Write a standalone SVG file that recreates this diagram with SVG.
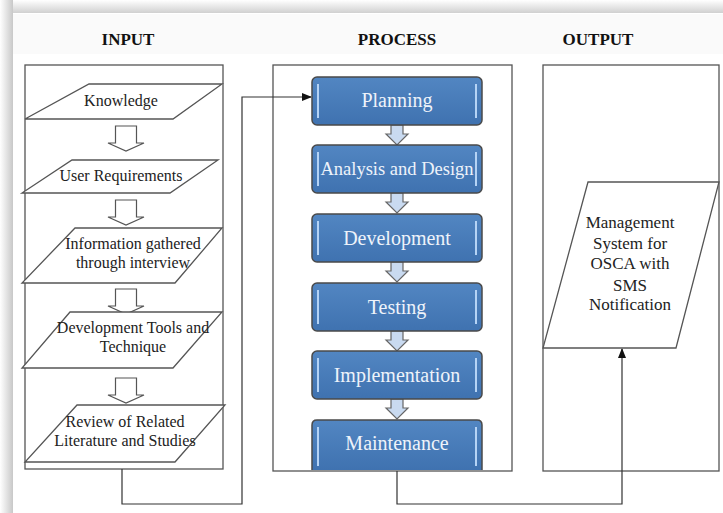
<svg xmlns="http://www.w3.org/2000/svg" width="723" height="513" viewBox="0 0 723 513">
<defs>
<linearGradient id="topShade" x1="0" y1="0" x2="0" y2="1"><stop offset="0" stop-color="#ffffff"/><stop offset="1" stop-color="#d0d0d0"/></linearGradient>
<linearGradient id="leftShade" x1="0" y1="0" x2="1" y2="0"><stop offset="0" stop-color="#ffffff"/><stop offset="1" stop-color="#c8c8c8"/></linearGradient>
<linearGradient id="boxFill" x1="0" y1="0" x2="0" y2="1"><stop offset="0" stop-color="#5286c2"/><stop offset="1" stop-color="#3f72b0"/></linearGradient>
<marker id="arr" markerWidth="10" markerHeight="8" refX="9" refY="4" orient="auto" markerUnits="userSpaceOnUse"><path d="M0,0 L10,4 L0,8 Z" fill="#111"/></marker>
<path id="hollowArrow" d="M-10.5,0 H10.5 V17 H18 L0,25 L-18,17 H-10.5 Z"/>
<path id="smallArrow" d="M-6,0 H6 V9 H11 L0,20 L-11,9 H-6 Z"/>
</defs>
<style>
.title{font-family:"Liberation Serif",serif;font-weight:bold;font-size:17px;fill:#111;text-anchor:middle}
.frame{fill:none;stroke:#555;stroke-width:1.3}
.para{fill:#fff;stroke:#555;stroke-width:1.3}
.itxt{font-family:"Liberation Serif",serif;font-size:16px;fill:#222;text-anchor:middle}
.otxt{font-family:"Liberation Serif",serif;font-size:17px;fill:#222;text-anchor:middle}
.pbox{fill:url(#boxFill);stroke:#4a4a4a;stroke-width:1.5}
.hl{stroke:#b5d3f5;stroke-width:2}
.ptxt{font-family:"Liberation Serif",serif;font-size:20px;fill:#eef3fa;text-anchor:middle}
.ha{fill:#fff;stroke:#555;stroke-width:1.2}
.sa{fill:#c9daf0;stroke:#666;stroke-width:1.2}
.conn{fill:none;stroke:#333;stroke-width:1.2}
</style>
<rect x="0" y="0" width="723" height="513" fill="#fff"/>
<rect x="0" y="0" width="723" height="13" fill="url(#topShade)"/>
<rect x="0" y="0" width="13" height="513" fill="url(#leftShade)"/>
<rect x="13" y="13" width="710" height="500" fill="#fff"/>
<rect x="13" y="14" width="710" height="40" fill="#fafafa"/>

<g id="titles">
<text class="title" x="128" y="45">INPUT</text>
<text class="title" x="397" y="45">PROCESS</text>
<text class="title" x="598" y="45">OUTPUT</text>
</g>

<g id="frames">
<rect class="frame" x="25" y="65" width="198" height="404"/>
<rect class="frame" x="273" y="65" width="239" height="406"/>
<rect class="frame" x="543" y="65" width="176" height="406"/>
</g>

<g id="connectors">
<polyline class="conn" points="122,469 122,504 242,504 242,97 311,97" marker-end="url(#arr)"/>
<polyline class="conn" points="397,471 397,504 622,504 622,349" marker-end="url(#arr)"/>
<use href="#hollowArrow" class="ha" x="126" y="126"/>
<use href="#hollowArrow" class="ha" x="126" y="200"/>
<use href="#hollowArrow" class="ha" x="126" y="289"/>
<use href="#hollowArrow" class="ha" x="126" y="378"/>
<use href="#smallArrow" class="sa" x="397" y="125"/>
<use href="#smallArrow" class="sa" x="397" y="193"/>
<use href="#smallArrow" class="sa" x="397" y="262"/>
<use href="#smallArrow" class="sa" x="397" y="331"/>
<use href="#smallArrow" class="sa" x="397" y="399"/>
</g>

<g id="knowledge">
<polygon class="para" points="89,84 222,84 173,119 25,119"/>
<text class="itxt" x="121" y="106">Knowledge</text>
</g>
<g id="user-requirements">
<polygon class="para" points="72,160 218,160 170,193 22,193"/>
<text class="itxt" x="121" y="181">User Requirements</text>
</g>
<g id="information">
<polygon class="para" points="75,228 222,228 175,283 22,283"/>
<text class="itxt" x="133" y="249">Information gathered</text>
<text class="itxt" x="133" y="268">through interview</text>
</g>
<g id="dev-tools">
<polygon class="para" points="70,312 222,312 173,368 22,368"/>
<text class="itxt" x="133" y="333">Development Tools and</text>
<text class="itxt" x="133" y="352">Technique</text>
</g>
<g id="review">
<polygon class="para" points="77,405 225,405 175,462 25,462"/>
<text class="itxt" x="125" y="427">Review of Related</text>
<text class="itxt" x="125" y="446">Literature and Studies</text>
</g>

<g id="planning">
<rect class="pbox" x="312" y="77" width="170" height="48" rx="5"/>
<line class="hl" x1="318" y1="84" x2="318" y2="118"/><line class="hl" x1="476" y1="84" x2="476" y2="118"/>
<text class="ptxt" x="397" y="107">Planning</text>
</g>
<g id="analysis">
<rect class="pbox" x="312" y="145" width="170" height="48" rx="5"/>
<line class="hl" x1="318" y1="152" x2="318" y2="186"/><line class="hl" x1="476" y1="152" x2="476" y2="186"/>
<text class="ptxt" x="397" y="175" style="font-size:18.5px">Analysis and Design</text>
</g>
<g id="development">
<rect class="pbox" x="312" y="214" width="170" height="48" rx="5"/>
<line class="hl" x1="318" y1="221" x2="318" y2="255"/><line class="hl" x1="476" y1="221" x2="476" y2="255"/>
<text class="ptxt" x="397" y="245">Development</text>
</g>
<g id="testing">
<rect class="pbox" x="312" y="283" width="170" height="48" rx="5"/>
<line class="hl" x1="318" y1="290" x2="318" y2="324"/><line class="hl" x1="476" y1="290" x2="476" y2="324"/>
<text class="ptxt" x="397" y="314">Testing</text>
</g>
<g id="implementation">
<rect class="pbox" x="312" y="351" width="170" height="48" rx="5"/>
<line class="hl" x1="318" y1="358" x2="318" y2="392"/><line class="hl" x1="476" y1="358" x2="476" y2="392"/>
<text class="ptxt" x="397" y="382">Implementation</text>
</g>
<g id="maintenance">
<path class="pbox" d="M312,470 V425 Q312,420 317,420 H477 Q482,420 482,425 V470"/>
<line class="hl" x1="318" y1="427" x2="318" y2="466"/><line class="hl" x1="476" y1="427" x2="476" y2="466"/>
<text class="ptxt" x="397" y="450">Maintenance</text>
</g>

<g id="output-system">
<polygon class="para" points="588,182 719,182 676,348 543,348"/>
<text class="otxt" x="630" y="228">Management</text>
<text class="otxt" x="630" y="249">System for</text>
<text class="otxt" x="630" y="269">OSCA with</text>
<text class="otxt" x="630" y="291">SMS</text>
<text class="otxt" x="630" y="310">Notification</text>
</g>
</svg>
